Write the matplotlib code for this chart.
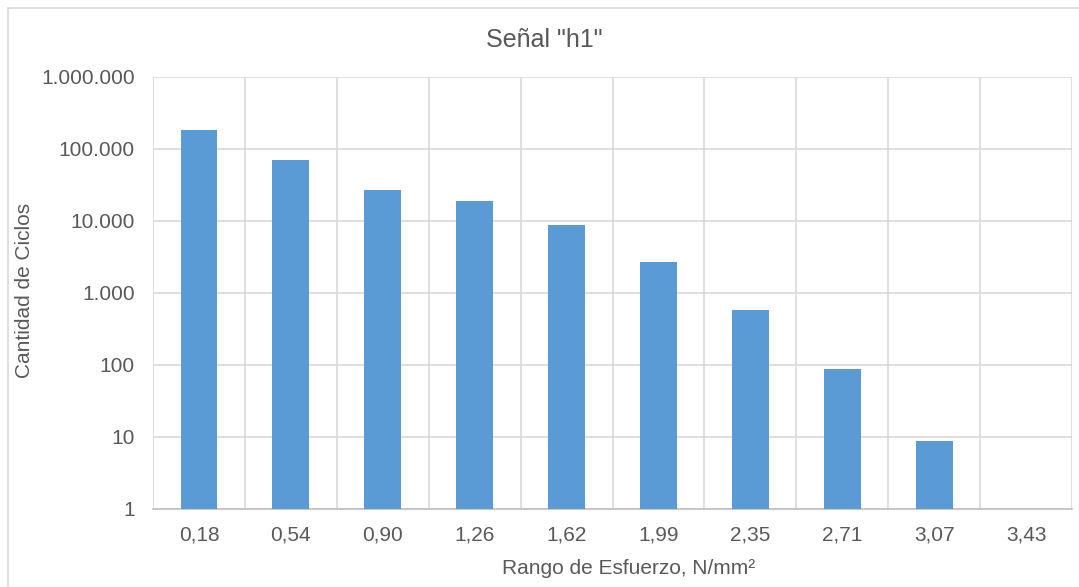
import matplotlib.pyplot as plt
import matplotlib.ticker as mticker
from matplotlib.patches import Rectangle
import numpy as np

plt.rcParams['font.family'] = ['Liberation Sans', 'DejaVu Sans']

categories = ['0,18', '0,54', '0,90', '1,26', '1,62', '1,99', '2,35', '2,71', '3,07', '3,43']
ciclos = [184000, 69700, 26900, 18800, 8800, 2700, 575, 88, 8.8, 1]

bar_color = '#5B9BD5'
text_color = '#595959'
grid_color = '#D9D9D9'

W, H = 1079, 587
fig = plt.figure(figsize=(W / 100, H / 100), dpi=100)
ax = fig.add_axes([153 / W, 1 - 509 / H, (1072 - 153) / W, (509 - 77) / H])

# chart frame
fig.patches.append(Rectangle((8 / W, -0.01), 1.0, 1 - 8 / H + 0.01,
                             transform=fig.transFigure, fill=False,
                             edgecolor=grid_color, linewidth=1.2))

x = np.arange(len(categories))
ax.bar(x, ciclos, width=0.4, color=bar_color, zorder=3)

ax.set_yscale('log')
ax.set_ylim(1, 1e6)
ax.set_xlim(-0.5, len(categories) - 0.5)
ax.yaxis.set_major_locator(mticker.LogLocator(base=10, numticks=10))
ax.yaxis.set_minor_locator(mticker.NullLocator())
ax.yaxis.set_major_formatter(mticker.FuncFormatter(lambda v, p: f'{int(round(v)):,}'.replace(',', '.')))

ax.set_xticks(x)
ax.set_xticklabels(categories)
ax.set_xticks(np.arange(-0.5, len(categories)), minor=True)
ax.xaxis.set_minor_formatter(mticker.NullFormatter())

ax.grid(True, which='major', axis='y', color=grid_color, linewidth=1.2, zorder=0)
ax.grid(True, which='minor', axis='x', color=grid_color, linewidth=1.2, zorder=0)
ax.tick_params(axis='both', which='both', length=0, labelsize=15, colors=text_color)
ax.tick_params(axis='y', pad=13)
ax.tick_params(axis='x', pad=12)

for side in ['top', 'right', 'left']:
    ax.spines[side].set_visible(False)
ax.spines['bottom'].set_color('#BFBFBF')
ax.spines['bottom'].set_linewidth(1.2)

fig.text(544 / W, 1 - 40 / H, 'Señal "h1"', fontsize=18, color=text_color,
         ha='center', va='center')
fig.text(25 / W, 1 - 290 / H, 'Cantidad de Ciclos', fontsize=15, color=text_color,
         ha='center', va='center', rotation=90)
fig.text(629 / W, 1 - 568 / H, 'Rango de Esfuerzo, N/mm²', fontsize=15, color=text_color,
         ha='center', va='center')

plt.savefig('out.png', dpi=100)
plt.close()
